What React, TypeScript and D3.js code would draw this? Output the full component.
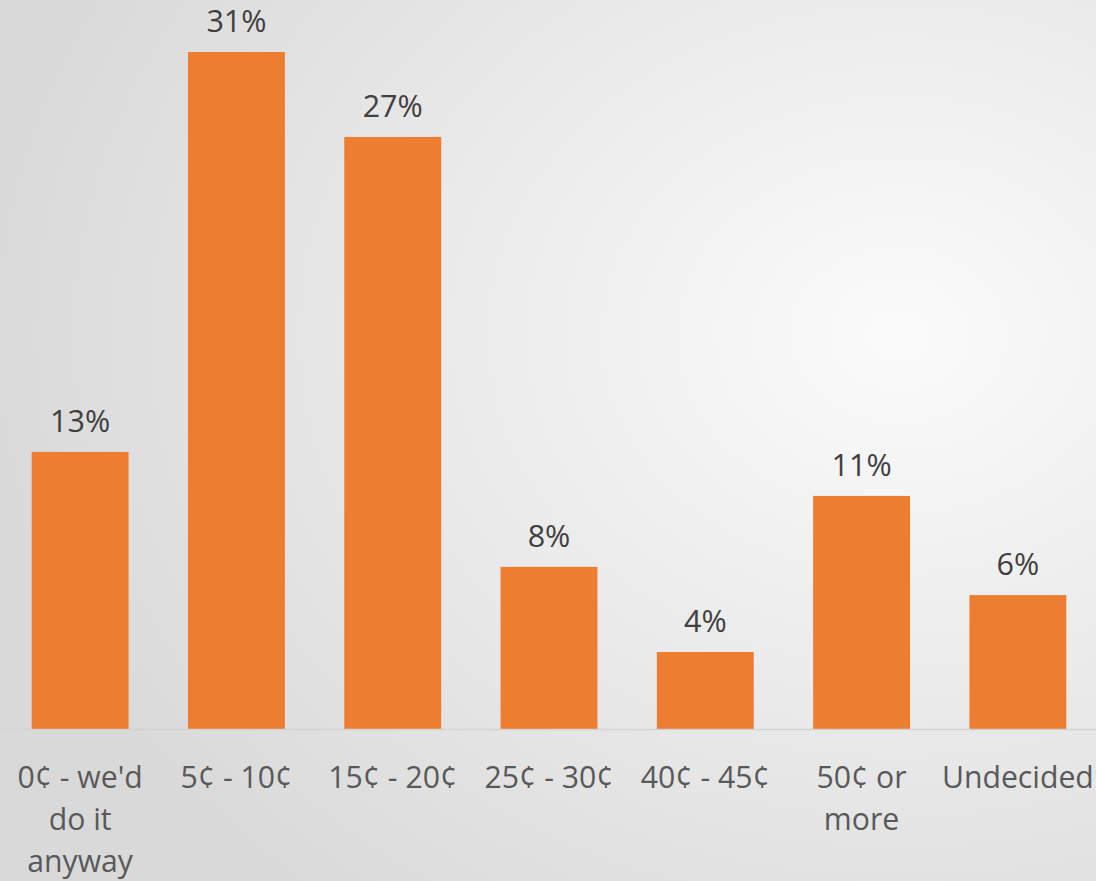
import React from "react";
import * as d3 from "d3";

const categories = ["0¢ - we'd\ndo it\nanyway", "5¢ - 10¢", "15¢ - 20¢", "25¢ - 30¢", "40¢ - 45¢", "50¢ or\nmore", "Undecided"];
const values = [12.85, 31.4, 27.46, 7.52, 3.57, 10.81, 6.21];

const W = 1096;
const H = 881;
const baseY = 729;

export default function App() {
  const x = d3.scaleBand<string>().domain(categories).range([2, 1096]).paddingInner(0.38).paddingOuter(0.19);
  const y = d3.scaleLinear().domain([0, 31.4]).range([baseY, 52]);
  const font = "'Open Sans', 'Noto Sans', sans-serif";
  return (
    <svg width={W} height={H} style={{ position: "absolute", left: 0, top: 0 }} xmlns="http://www.w3.org/2000/svg">
      <defs>
        <radialGradient id="bg" cx="82%" cy="38%" r="85%" gradientUnits="objectBoundingBox">
          <stop offset="0%" stopColor="#fbfbfb" />
          <stop offset="100%" stopColor="#d9d9d9" />
        </radialGradient>
      </defs>
      <rect x={0} y={0} width={W} height={H} fill="url(#bg)" />
      {categories.map((c, i) => (
        <rect key={c} x={x(c)} y={y(values[i])} width={x.bandwidth()} height={baseY - y(values[i])} fill="#ED7D31" />
      ))}
      <line x1={0} x2={W} y1={baseY + 0.5} y2={baseY + 0.5} stroke="#d3d3d3" strokeWidth={1.5} />
      {categories.map((c, i) => (
        <text key={"v" + c} x={(x(c) as number) + x.bandwidth() / 2} y={y(values[i]) - 20} textAnchor="middle" fontFamily={font} fontSize={30.5} fill="#404040">
          {d3.format(".0f")(values[i]) + "%"}
        </text>
      ))}
      {categories.map((c) => (
        <text key={"c" + c} textAnchor="middle" fontFamily={font} fontSize={30.2} fill="#595959">
          {c.split("\n").map((line, j) => (
            <tspan key={j} x={(x(c) as number) + x.bandwidth() / 2} y={788 + j * 42}>{line}</tspan>
          ))}
        </text>
      ))}
    </svg>
  );
}
